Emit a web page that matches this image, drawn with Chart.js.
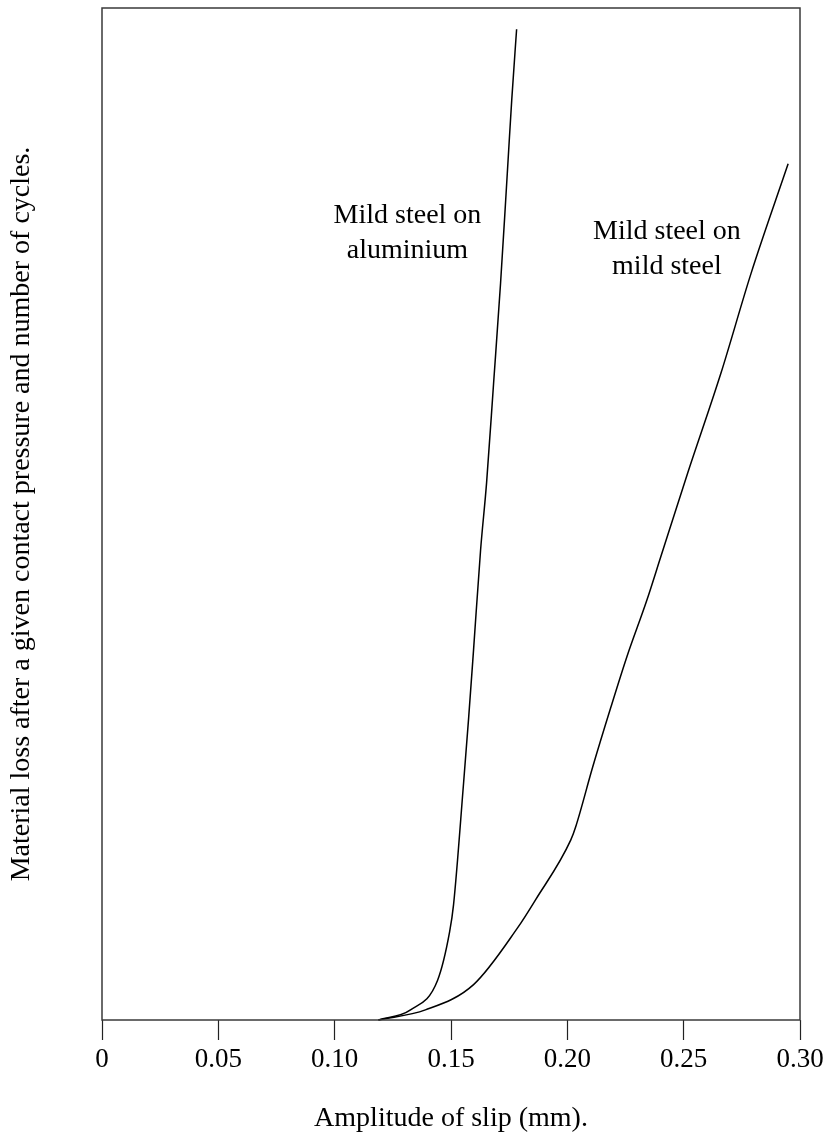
<!DOCTYPE html>
<html>
<head>
<meta charset="utf-8">
<script src="https://cdn.jsdelivr.net/npm/chart.js@4.4.1/dist/chart.umd.min.js"></script>
<style>
  html, body { margin: 0; padding: 0; background: #fff; }
  #wrap { width: 838px; height: 1146px; position: relative; }
</style>
</head>
<body>
<div id="wrap"><canvas id="c"></canvas></div>
<script>
// Amplitude of slip (mm) against relative material loss (arbitrary units, 0-100)
const aluminiumSlip = [0.1188, 0.1326, 0.1442, 0.1494, 0.1511, 0.1554, 0.1576, 0.1597, 0.1627, 0.1653, 0.1683, 0.1713, 0.1735, 0.1748, 0.1761, 0.1782];
const aluminiumLoss = [0, 1.0, 3.9, 8.7, 11.4, 23.4, 29.9, 36.6, 46.4, 53.1, 62.9, 72.8, 81.0, 86.0, 90.9, 97.9];

const steelSlip = [0.1188, 0.1390, 0.1597, 0.1786, 0.1864, 0.2015, 0.2036, 0.2109, 0.2187, 0.2256, 0.2342, 0.2402, 0.2518, 0.2660, 0.2790, 0.2949];
const steelLoss = [0, 1.0, 3.5, 9.1, 11.9, 17.8, 19.1, 25.0, 30.9, 35.9, 41.5, 45.8, 54.1, 63.9, 73.8, 84.6];

const xTickValues = [0, 0.05, 0.10, 0.15, 0.20, 0.25, 0.30];
const xTickLabels = ['0', '0.05', '0.10', '0.15', '0.20', '0.25', '0.30'];

// Curve captions: anchor (slip, loss) of the first line, then the text lines
const captionX = [0.1313, 0.2428];
const captionY = [79.5, 77.9];
const captionLines = [['Mild steel on', 'aluminium'], ['Mild steel on', 'mild steel']];

const serif = '"Liberation Serif", "Times New Roman", serif';

const toPoints = (xs, ys) => xs.map((x, i) => ({ x: x, y: ys[i] }));

const framePlugin = {
  id: 'frame',
  afterDatasetsDraw(chart) {
    const { ctx, chartArea: a, scales } = chart;
    ctx.save();
    ctx.strokeStyle = '#3a3a3a';
    ctx.lineWidth = 1.5;
    ctx.strokeRect(a.left, a.top, a.right - a.left, a.bottom - a.top);

    ctx.fillStyle = '#000';
    ctx.font = '28px ' + serif;
    ctx.textAlign = 'center';
    ctx.textBaseline = 'middle';
    captionLines.forEach((lines, i) => {
      const px = scales.x.getPixelForValue(captionX[i]);
      const py = scales.y.getPixelForValue(captionY[i]);
      lines.forEach((t, j) => ctx.fillText(t, px, py + j * 35));
    });
    ctx.restore();
  }
};

new Chart(document.getElementById('c'), {
  type: 'line',
  data: {
    datasets: [
      {
        label: 'Mild steel on aluminium',
        data: toPoints(aluminiumSlip, aluminiumLoss),
        borderColor: '#000',
        borderWidth: 1.5,
        pointRadius: 0,
        cubicInterpolationMode: 'monotone',
        fill: false,
        clip: false
      },
      {
        label: 'Mild steel on mild steel',
        data: toPoints(steelSlip, steelLoss),
        borderColor: '#000',
        borderWidth: 1.5,
        pointRadius: 0,
        cubicInterpolationMode: 'monotone',
        fill: false,
        clip: false
      }
    ]
  },
  options: {
    responsive: true,
    maintainAspectRatio: false,
    animation: false,
    layout: { padding: { top: 8, right: 38, left: 0, bottom: 0 } },
    plugins: {
      legend: { display: false },
      tooltip: { enabled: false }
    },
    scales: {
      x: {
        type: 'linear',
        min: 0,
        max: 0.30,
        afterBuildTicks(scale) {
          scale.ticks = xTickValues.map(v => ({ value: v }));
        },
        afterFit(scale) { scale.height = 126; },
        ticks: {
          color: '#000',
          font: { family: serif, size: 27 },
          padding: 4,
          maxRotation: 0,
          autoSkip: false,
          callback: (v, i) => xTickLabels[i]
        },
        grid: {
          display: true,
          drawOnChartArea: false,
          drawTicks: true,
          tickLength: 20,
          tickWidth: 1.2,
          tickColor: '#222'
        },
        border: { display: false },
        title: {
          display: true,
          text: 'Amplitude of slip (mm).',
          color: '#000',
          font: { family: serif, size: 28 },
          padding: { top: 4, bottom: 11 }
        }
      },
      y: {
        type: 'linear',
        min: 0,
        max: 100,
        afterFit(scale) { scale.width = 102; },
        ticks: { display: false },
        grid: { display: false, drawTicks: false },
        border: { display: false },
        title: {
          display: true,
          text: 'Material loss after a given contact pressure and number of cycles.',
          color: '#000',
          font: { family: serif, size: 28 },
          padding: { top: 5, bottom: 5 }
        }
      }
    }
  },
  plugins: [framePlugin]
});
</script>
</body>
</html>
